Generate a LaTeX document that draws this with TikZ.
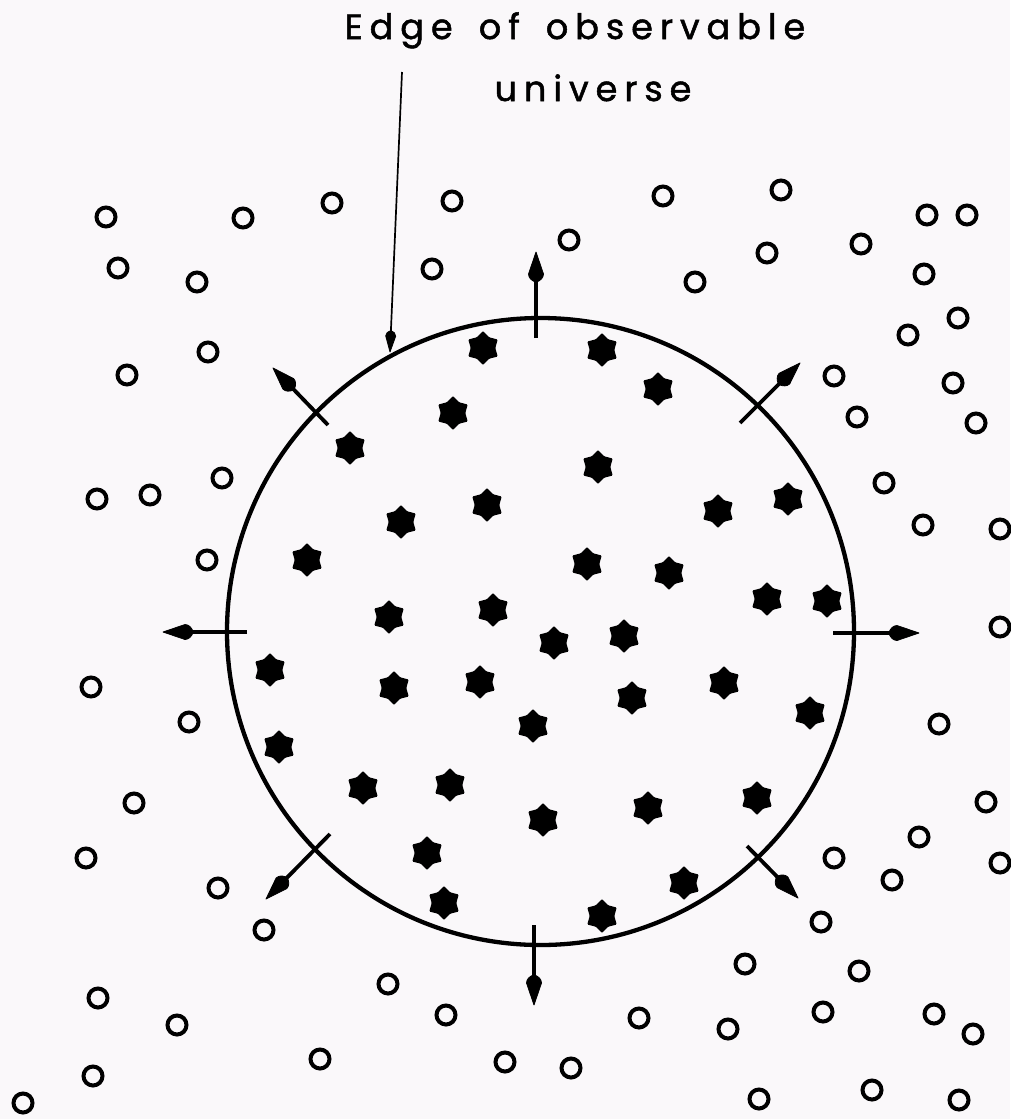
\documentclass[tikz,border=0pt]{standalone}
\usepackage{fontspec}
\newfontfamily\lblfont[LetterSpace=20,FakeBold=1.5,WordSpace=1.6]{Poppins}
\usetikzlibrary{shapes.geometric,calc}
\definecolor{bgcol}{RGB}{250,248,250}
\begin{document}
\begin{tikzpicture}[x=1pt,y=-1pt,
  galaxy/.style={circle,draw=black,line width=4pt,minimum size=19pt,inner sep=0pt},
  starg/.style={star,star points=6,star point ratio=1.38,minimum size=34pt,fill=black,inner sep=0pt,rounded corners=1pt},
  flow/.style={line width=3.8pt},
  leader/.style={line width=1.7pt},
  head/.style={fill=black,draw=black,line width=0.8pt,line join=round},
  lbl/.style={font=\lblfont\fontsize{35}{40}\selectfont,anchor=base,inner sep=0pt}]
\fill[bgcol] (0,0) rectangle (1010,1119);
\useasboundingbox (0,0) rectangle (1010,1119);

% horizon
\node[draw,circle,line width=4.3pt,minimum size=627pt,inner sep=0pt] (horizon) at (540.5,631.5) {};

% label
\node[lbl] (lab1) at (575,39) {Edge of observable};
\node[lbl] (lab2) at (593,101) {universe};
\coordinate (leadS) at (402,72);
\coordinate (leadE) at (390,352);
\coordinate (leadB) at ($(leadE)!16pt!(leadS)$);
\draw[leader] (leadS) -- (leadB);
\fill[head] (leadE) -- ($(leadE)!16pt!(leadS)!5pt!90:(leadE)$)
  .. controls ($(leadE)!19pt!(leadS)!5pt!90:(leadE)$) and ($(leadE)!20.5pt!(leadS)!2.5pt!90:(leadE)$)
  .. ($(leadE)!21pt!(leadS)!0.8pt!90:(leadE)$)
  -- ($(leadE)!21pt!(leadS)!0.8pt!-90:(leadE)$)
  .. controls ($(leadE)!20.5pt!(leadS)!2.5pt!-90:(leadE)$) and ($(leadE)!19pt!(leadS)!5pt!-90:(leadE)$)
  .. ($(leadE)!16pt!(leadS)!5pt!-90:(leadE)$) -- cycle;

% stars (inside)
\foreach \x/\y [count=\i] in {483/348,602/350,658/389,453/413,350/448,598/467,487/505,401/522,
  718/511,788/499,307/560,587/564,669/573,389/617,493/610,767/599,827/601,554/643,624/636,
  270/670,394/688,480/682,632/698,724/683,533/726,810/713,279/747,363/788,450/785,543/820,
  648/808,757/798,427/853,684/883,444/903,602/916}
  \node[starg] (s\i) at (\x,\y) {};

% galaxies (outside)
\foreach \x/\y [count=\i] in {106/217,243/218,332/203,452/201,118/268,197/282,432/269,208/352,127/375,222/478,
  663/196,781/190,927/215,967/215,569/240,767/253,861/244,695/282,924/274,958/318,908/335,834/376,
  953/383,857/417,976/423,884/483,
  97/499,150/495,207/560,91/687,189/722,134/803,
  923/525,1000/529,1000/627,939/724,986/802,
  86/858,218/888,264/930,98/998,177/1025,93/1076,23/1103,388/984,446/1015,320/1059,505/1062,
  919/837,1000/863,834/858,892/880,821/922,745/964,859/971,823/1012,934/1014,973/1034,639/1018,
  728/1029,571/1068,759/1099,872/1090,959/1100}
  \node[galaxy] (g\i) at (\x,\y) {};

% expansion arrows
\coordinate (tN) at (536,338);  \coordinate (hN) at (536,252);
\coordinate (tNE) at (740,423); \coordinate (hNE) at (800,363);
\coordinate (tE) at (833,633);  \coordinate (hE) at (919,633);
\coordinate (tSE) at (747,846); \coordinate (hSE) at (798,898);
\coordinate (tS) at (534,925);  \coordinate (hS) at (534,1005);
\coordinate (tSW) at (330,834); \coordinate (hSW) at (266,899);
\coordinate (tW) at (247,632);  \coordinate (hW) at (163,632);
\coordinate (tNW) at (328,425); \coordinate (hNW) at (273,368);
\foreach \d in {N,NE,E,SE,S,SW,W,NW}{
  \coordinate (b\d) at ($(h\d)!22pt!(t\d)$);
  \draw[flow] (t\d) -- (b\d);
  \fill[head] (h\d) -- ($(h\d)!22pt!(t\d)!7.5pt!90:(h\d)$)
    .. controls ($(h\d)!26pt!(t\d)!7.5pt!90:(h\d)$) and ($(h\d)!28.5pt!(t\d)!4pt!90:(h\d)$)
    .. ($(h\d)!29.5pt!(t\d)!1.8pt!90:(h\d)$)
    -- ($(h\d)!29.5pt!(t\d)!1.8pt!-90:(h\d)$)
    .. controls ($(h\d)!28.5pt!(t\d)!4pt!-90:(h\d)$) and ($(h\d)!26pt!(t\d)!7.5pt!-90:(h\d)$)
    .. ($(h\d)!22pt!(t\d)!7.5pt!-90:(h\d)$) -- cycle;
}
\end{tikzpicture}
\end{document}
